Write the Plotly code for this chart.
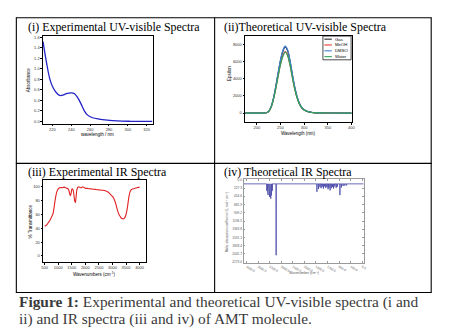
import plotly.graph_objects as go

W, H = 452, 335

# ---------------- data ----------------
# (i) Experimental UV-visible
uv_exp_wl = [210, 213.8, 217.3, 220.7, 224.2, 227.7, 231.2, 234.7, 239.9, 243.4, 246.9,
             250.4, 253.9, 257.3, 262.6, 269.5, 278.2, 288.7, 302.7, 326]
uv_exp_abs = [1.52, 1.11, 0.80, 0.64, 0.545, 0.495, 0.50, 0.527, 0.545, 0.527, 0.45,
              0.33, 0.20, 0.12, 0.07, 0.044, 0.025, 0.01, 0.003, 0.0]
uv_exp_yticks = [0.0, 0.2, 0.4, 0.6, 0.8, 1.0, 1.2, 1.4, 1.6]
uv_exp_xticks = [220, 240, 260, 280, 300, 320]

# (ii) Theoretical UV-visible
uv_th_wl = [175, 200, 215, 220, 225, 230, 235, 240, 245, 250, 255, 260, 265, 270, 275,
            280, 285, 290, 295, 300, 310, 320, 330, 350, 400]
uv_gas = [0, 0, 0, 30, 195, 690, 1680, 3070, 4650, 6130, 7220, 7760, 7320, 6130, 4550,
          3070, 1930, 1140, 640, 375, 128, 50, 20, 5, 0]
uv_meoh = [0, 0, 0, 28, 185, 640, 1560, 2850, 4320, 5700, 6700, 7200, 6800, 5700, 4230,
           2850, 1800, 1060, 600, 350, 120, 46, 18, 5, 0]
uv_dmso = [0, 0, 0, 30, 200, 700, 1700, 3100, 4700, 6200, 7300, 7850, 7400, 6200, 4600,
           3100, 1950, 1150, 650, 380, 130, 50, 20, 5, 0]
uv_water = [0, 0, 0, 28, 183, 635, 1550, 2830, 4290, 5660, 6650, 7150, 6750, 5660, 4200,
            2830, 1790, 1050, 595, 348, 118, 45, 18, 5, 0]
uv_series_names = ["Gas", "MeOH", "DMSO", "Water"]
uv_th_xticks = [200, 250, 300, 350, 400]
uv_th_yticks = [0, 2000, 4000, 6000, 8000]

# (iii) Experimental IR
ir_exp_wn = [500, 550, 600, 650, 700, 750, 800, 850, 900, 950, 1000, 1050, 1100, 1150, 1200,
             1250, 1300, 1350, 1390, 1420, 1450, 1480, 1510, 1540, 1570, 1600, 1630, 1660,
             1690, 1720, 1760, 1800, 1850, 1900, 1950, 2000, 2100, 2200, 2300, 2400, 2500,
             2600, 2700, 2800, 2850, 2900, 2950, 3000, 3050, 3100, 3150, 3200, 3250, 3300,
             3350, 3400, 3450, 3500, 3550, 3600, 3650, 3700, 3800, 3900, 4000]
ir_exp_t = [43, 44, 46, 49, 52, 56, 60, 71, 84, 93, 97, 98.5, 99, 98.5, 99.5,
            99, 98, 97.5, 95, 90, 87, 92, 97, 96, 91, 81, 77, 86,
            96, 99, 100, 99, 98.5, 100, 99, 98, 97.5, 97, 96.5, 96, 95.5,
            95, 94.5, 93, 92, 90, 88, 86, 83, 78, 71, 64, 59, 56,
            54, 53.5, 55, 60, 70, 84, 93, 96, 97.5, 98.5, 99.5]
ir_exp_xticks = [500, 1000, 1500, 2000, 2500, 3000, 3500, 4000]
ir_exp_yticks = [0, 20, 40, 60, 80, 100]

# (iv) Theoretical IR (stick spectrum: position, depth)
ir_th_base = 110
ir_th_pos = [3300, 3270, 3250, 3225, 3200, 3180, 3160, 3140, 3110, 2975,
             1565, 1510, 1460, 1420, 1380, 1340, 1300, 1260, 1220, 1180, 1150, 1110,
             1070, 1030, 990, 950, 900, 860, 770, 720, 660, 600, 540]
ir_th_int = [300, 360, 420, 330, 470, 390, 520, 430, 300, 2080,
             330, 250, 200, 230, 190, 240, 180, 220, 200, 260, 210, 290,
             230, 200, 240, 180, 220, 190, 420, 210, 170, 160, 150]
ir_th_xticks = [4000, 3600, 3200, 2800, 2400, 2000, 1600, 1200, 800, 400, 0]
ir_th_yticks = [0.0, 227.3, 454.6, 681.9, 909.2, 1136.5, 1363.8, 1591.1, 1818.4, 2045.7, 2273.0]

# ---------------- helpers ----------------
def fx(p):
    return p / W

def fy(p):
    return 1 - p / H

TICKFONT = dict(family="Liberation Sans, Arial, sans-serif", size=4, color="#333")
SERIF = "Liberation Serif, Times New Roman, serif"
SANS = "Liberation Sans, Arial, sans-serif"

fig = go.Figure()

# (i)
fig.add_trace(go.Scatter(x=uv_exp_wl, y=uv_exp_abs, mode="lines", line=dict(color="#2323c8", width=1.3, shape="spline"),
                         xaxis="x", yaxis="y", showlegend=False))

# (ii)
uv_colors = ["#222222", "#e8352d", "#3f7fd8", "#2fa35a"]
for name, vals, col in zip(uv_series_names, [uv_gas, uv_meoh, uv_dmso, uv_water], uv_colors):
    fig.add_trace(go.Scatter(x=uv_th_wl, y=vals, mode="lines", name=name,
                             line=dict(color=col, width=1.2, shape="spline"),
                             xaxis="x2", yaxis="y2", showlegend=False))

# (iii)
fig.add_trace(go.Scatter(x=ir_exp_wn, y=ir_exp_t, mode="lines", line=dict(color="#e02020", width=1.1, shape="spline"),
                         xaxis="x3", yaxis="y3", showlegend=False))

# (iv) stick spectrum drawn as narrow dips from the baseline
sx, sy = [4100], [ir_th_base]
for p, v in sorted(zip(ir_th_pos, ir_th_int), reverse=True):
    sx += [p + 7, p, p - 7]
    sy += [ir_th_base, v, ir_th_base]
sx.append(-50)
sy.append(ir_th_base)
fig.add_trace(go.Scatter(x=sx, y=sy, mode="lines", line=dict(color="#4646a8", width=0.8),
                         xaxis="x4", yaxis="y4", showlegend=False))

axbase = dict(showline=True, mirror=True, linecolor="black", linewidth=0.8, ticks="outside",
              ticklen=1.5, tickwidth=0.6, tickcolor="black", tickfont=TICKFONT, showgrid=False,
              zeroline=False, fixedrange=True)

layout_axes = dict(
    xaxis=dict(axbase, domain=[fx(41.3), fx(152.3)], range=[209.8, 326.3], tickvals=uv_exp_xticks, anchor="y"),
    yaxis=dict(axbase, domain=[fy(123), fy(34.7)], range=[-0.04, 1.62], tickvals=uv_exp_yticks,
               tickformat=".1f", anchor="x"),
    xaxis2=dict(axbase, domain=[fx(245.7), fx(354.3)], range=[175, 402], tickvals=uv_th_xticks, anchor="y2"),
    yaxis2=dict(axbase, domain=[fy(121.7), fy(34.3)], range=[-1080, 9040], tickvals=uv_th_yticks, anchor="x2"),
    xaxis3=dict(axbase, domain=[fx(41.5), fx(146)], range=[440, 4250], tickvals=ir_exp_xticks, anchor="y3"),
    yaxis3=dict(axbase, domain=[fy(263.3), fy(180)], range=[-9, 110], tickvals=ir_exp_yticks, anchor="x3"),
    xaxis4=dict(axbase, domain=[fx(244.3), fx(365.7)], range=[4100, -50], tickvals=ir_th_xticks,
                ticktext=[f"{v:.1f}" for v in ir_th_xticks], anchor="y4", linecolor="#9a9a9a",
                ticks="inside", mirror="allticks", tickcolor="#9a9a9a",
                tickfont=dict(TICKFONT, size=3.2, color="#555")),
    yaxis4=dict(axbase, domain=[fy(264), fy(179.3)], range=[2290, -20], tickvals=ir_th_yticks,
                ticktext=[f"{v:.1f}" for v in ir_th_yticks], anchor="x4", linecolor="#9a9a9a",
                ticks="inside", mirror="allticks", tickcolor="#9a9a9a",
                tickfont=dict(TICKFONT, size=3.2, color="#555")),
)

shapes = []
# table borders
lw = 1.1
def hline(y, x0, x1):
    shapes.append(dict(type="line", xref="paper", yref="paper", x0=fx(x0), x1=fx(x1), y0=fy(y), y1=fy(y),
                       line=dict(color="black", width=lw)))
def vline(x, y0, y1):
    shapes.append(dict(type="line", xref="paper", yref="paper", x0=fx(x), x1=fx(x), y0=fy(y0), y1=fy(y1),
                       line=dict(color="black", width=lw)))
hline(16, 14, 434.5)
hline(163.3, 14, 434.5)
hline(294, 14, 434.5)
vline(14.5, 16, 294)
vline(215, 16, 294)
vline(434, 16, 294)

annotations = []
def text(x, y, s, size, family=SERIF, color="black", angle=0, xanchor="left", yanchor="middle"):
    annotations.append(dict(x=fx(x), y=fy(y), xref="paper", yref="paper", text=s, showarrow=False,
                            font=dict(family=family, size=size, color=color), textangle=angle,
                            xanchor=xanchor, yanchor=yanchor))

# cell titles
text(24, 24.8, "(i) Experimental UV-visible Spectra", 11.9)
text(222, 24.8, "(ii)Theoretical UV-visible Spectra", 11.9)
text(24, 172, "(iii) Experimental IR Spectra", 11.9)
text(222, 172.5, "(iv) Theoretical IR Spectra", 11.9)

# axis titles
text(26.5, 79, "Absorbance", 4.5, family=SANS, angle=-90, xanchor="center")
text(96.5, 134, "wavelength / nm", 4.5, family=SANS, xanchor="center")
text(229.5, 72, "Epsilon", 4.5, family=SANS, angle=-90, xanchor="center")
text(300, 133, "Wavelength (nm)", 4.5, family=SANS, xanchor="center")
text(28.5, 222, "% Transmittance", 4.5, family=SANS, angle=-90, xanchor="center")
text(93, 275, "Wavenumbers (cm<sup>-1</sup>)", 4.5, family=SANS, xanchor="center")
text(227.5, 222, "Molar absorption coefficient / (L mol<sup>-1</sup> cm<sup>-1</sup>)", 3.2, family=SANS,
     color="#555", angle=-90, xanchor="center")
text(305, 274, "Wavenumber (cm<sup>-1</sup>)", 3.4, family=SANS, color="#555", xanchor="center")

# manual legend for (ii)
shapes.append(dict(type="rect", xref="paper", yref="paper", x0=fx(324.5), x1=fx(353), y0=fy(58.5), y1=fy(34.5),
                   line=dict(color="black", width=0.7), fillcolor="white"))
for i, (name, col) in enumerate(zip(uv_series_names, uv_colors)):
    yy = 37.6 + i * 5.9
    shapes.append(dict(type="line", xref="paper", yref="paper", x0=fx(326), x1=fx(333.5), y0=fy(yy), y1=fy(yy),
                       line=dict(color=col, width=1.1)))
    text(335, yy, name, 4.3, family=SANS)

# caption
text(15, 304, "<b>Figure 1:</b> Experimental and theoretical UV-visible spectra (i and", 15.4, color="#3a3a3a")
text(15, 321, "ii) and IR spectra (iii and iv) of AMT molecule.", 15.4, color="#3a3a3a")

fig.update_layout(width=W, height=H, margin=dict(l=0, r=0, t=0, b=0), paper_bgcolor="white",
                  plot_bgcolor="white", shapes=shapes, annotations=annotations, showlegend=False,
                  **layout_axes)

fig.write_html("out.html", config=dict(displayModeBar=False))
